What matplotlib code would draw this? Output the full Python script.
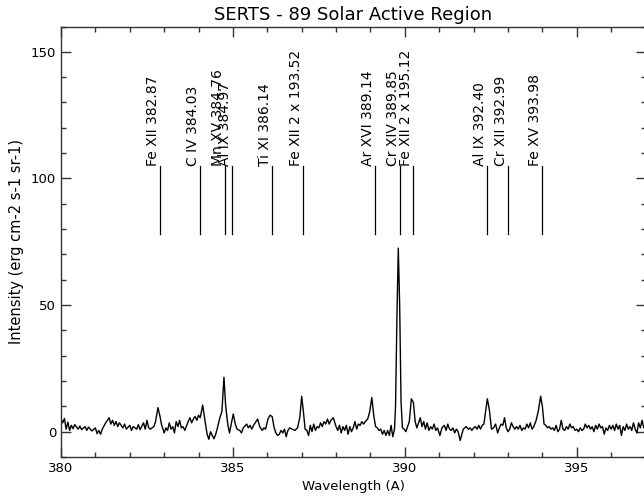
import matplotlib
matplotlib.use("Agg")
import matplotlib.pyplot as plt
from matplotlib.ticker import MultipleLocator

wavelength = [
    380.00, 380.05, 380.10, 380.15, 380.20, 380.25, 380.30, 380.35, 380.40, 380.50,
    380.55, 380.60, 380.70, 380.75, 380.80, 380.90, 381.00, 381.05, 381.10, 381.15,
    381.20, 381.30, 381.40, 381.45, 381.50, 381.55, 381.60, 381.65, 381.70, 381.80,
    381.85, 381.90, 382.00, 382.05, 382.10, 382.20, 382.25, 382.30, 382.40, 382.45,
    382.50, 382.55, 382.60, 382.70, 382.75, 382.82, 382.88, 382.92, 383.00, 383.05,
    383.10, 383.15, 383.20, 383.25, 383.30, 383.35, 383.40, 383.45, 383.50, 383.55,
    383.60, 383.70, 383.75, 383.80, 383.85, 383.90, 383.95, 384.00, 384.05, 384.12,
    384.18, 384.25, 384.30, 384.35, 384.40, 384.45, 384.50, 384.55, 384.62, 384.68,
    384.74, 384.79, 384.85, 384.90, 384.95, 385.01, 385.07, 385.12, 385.20, 385.25,
    385.30, 385.40, 385.45, 385.50, 385.55, 385.60, 385.65, 385.72, 385.78, 385.85,
    385.90, 385.95, 386.02, 386.08, 386.14, 386.20, 386.25, 386.30, 386.35, 386.40,
    386.45, 386.50, 386.55, 386.60, 386.65, 386.72, 386.80, 386.88, 386.95, 387.00,
    387.05, 387.10, 387.15, 387.20, 387.25, 387.30, 387.35, 387.40, 387.45, 387.50,
    387.55, 387.60, 387.65, 387.70, 387.75, 387.80, 387.85, 387.92, 388.00, 388.05,
    388.10, 388.15, 388.20, 388.25, 388.30, 388.35, 388.40, 388.45, 388.50, 388.55,
    388.60, 388.65, 388.70, 388.75, 388.80, 388.85, 388.92, 388.98, 389.04, 389.10,
    389.15, 389.20, 389.25, 389.30, 389.35, 389.40, 389.45, 389.50, 389.55, 389.60,
    389.65, 389.70, 389.73, 389.77, 389.81, 389.85, 389.89, 389.93, 389.98, 390.03,
    390.08, 390.13, 390.19, 390.25, 390.30, 390.35, 390.40, 390.45, 390.50, 390.55,
    390.60, 390.65, 390.70, 390.75, 390.80, 390.85, 390.90, 390.95, 391.02, 391.08,
    391.15, 391.20, 391.25, 391.30, 391.35, 391.40, 391.45, 391.50, 391.55, 391.61,
    391.66, 391.70, 391.78, 391.85, 391.90, 391.95, 392.00, 392.05, 392.10, 392.15,
    392.20, 392.25, 392.30, 392.35, 392.40, 392.46, 392.52, 392.58, 392.64, 392.70,
    392.75, 392.80, 392.85, 392.90, 392.95, 393.00, 393.05, 393.10, 393.15, 393.20,
    393.25, 393.30, 393.35, 393.40, 393.45, 393.50, 393.55, 393.60, 393.65, 393.70,
    393.75, 393.82, 393.88, 393.95, 394.00, 394.05, 394.10, 394.15, 394.20, 394.25,
    394.30, 394.35, 394.40, 394.45, 394.50, 394.55, 394.60, 394.65, 394.70, 394.75,
    394.80, 394.85, 394.90, 394.95, 395.00, 395.05, 395.10, 395.15, 395.20, 395.25,
    395.30, 395.35, 395.40, 395.45, 395.50, 395.55, 395.60, 395.65, 395.70, 395.75,
    395.80, 395.85, 395.90, 395.95, 396.00, 396.05, 396.10, 396.15, 396.20, 396.25,
    396.30, 396.35, 396.40, 396.45, 396.50, 396.55, 396.60, 396.65, 396.70, 396.75,
    396.80, 396.85, 396.90, 396.95, 397.00,
]

intensity = [
    5.0, 3.5, 5.2, 1.0, 3.8, 0.5, 2.5, 1.2, 2.8, 1.0,
    2.2, 0.8, 2.0, 0.5, 1.8, 0.3, 1.5, -0.8, 0.5, -1.0,
    1.0, 3.5, 5.5, 3.0, 4.5, 2.5, 4.0, 2.0, 3.5, 1.5,
    3.0, 1.0, 2.5, 0.5, 2.0, 1.0, 2.8, 0.8, 3.5, 1.0,
    4.5, 1.5, 1.0, 2.0, 4.0, 9.5, 6.0, 3.0, -0.5, 1.5,
    0.5, 3.5, 1.0, 2.0, -0.5, 4.0, 2.0, 4.5, 1.5, 2.0,
    0.5, 4.0, 5.5, 3.5, 5.0, 6.0, 4.5, 6.5, 5.5, 10.5,
    5.0, -1.0, -3.0, 0.0, -1.5, -2.8, -1.0, 1.5, 5.5, 8.0,
    21.5, 10.0, 3.0, -0.5, 3.0, 7.0, 3.0, 1.0, 0.5, -0.5,
    1.5, 3.0, 1.5, 2.5, 1.0, 2.5, 3.5, 5.0, 2.0, 0.5,
    1.5, 1.0, 5.0, 6.5, 6.0, 1.5, -0.5, -1.5, -1.0, 0.5,
    -0.5, 1.0, -2.0, 0.5, 1.5, 1.0, 0.5, 1.5, 6.0, 14.0,
    8.0, 1.0, 0.5, -1.5, 2.5, 0.0, 3.0, 0.5, 2.0, 1.5,
    3.5, 2.0, 4.0, 3.0, 5.0, 3.0, 4.5, 5.5, 2.0, 0.5,
    2.5, -0.5, 2.0, 0.5, 2.5, -1.0, 2.0, 0.0, 1.5, 4.0,
    1.0, 3.0, 2.5, 4.0, 3.0, 4.0, 5.0, 8.0, 13.5, 6.0,
    2.0, 1.5, 0.5, 1.0, -1.0, 0.5, -1.5, 0.5, -1.5, 2.5,
    -2.0, 1.0, 10.0, 45.0, 72.5, 50.0, 12.0, 1.5, 1.0, 0.0,
    2.0, 4.0, 13.0, 11.5, 4.0, 1.5, 3.5, 5.5, 2.0, 4.0,
    1.0, 3.5, 0.5, 2.0, 1.0, 3.0, 0.5, 1.5, -1.5, 1.5,
    2.5, 0.5, 3.0, 1.0, 0.5, 1.5, -0.5, 1.0, 0.0, -3.5,
    -1.0, 1.0, 2.0, 1.0, 1.5, 0.5, 1.5, 2.0, 1.0, 2.5,
    1.0, 2.5, 3.0, 8.0, 13.0, 8.5, 1.0, 1.5, 3.0, -0.5,
    1.5, 3.0, 2.5, 5.5, 1.5, 0.0, 1.0, 3.5, 2.0, 1.0,
    2.0, 1.0, 2.5, 0.5, 1.5, 1.0, 3.0, 1.5, 3.5, 1.0,
    2.0, 4.5, 8.0, 14.0, 10.0, 3.0, 2.5, 1.5, 2.0, 1.0,
    1.5, 0.5, 2.5, 0.0, 1.0, 4.5, 1.0, 0.5, 2.0, 1.0,
    3.0, 1.5, 2.0, 0.5, 1.0, 0.0, 1.5, 0.5, 1.0, 3.0,
    1.5, 2.5, 1.0, 2.0, 0.0, 2.5, 1.0, 3.0, 1.5, 2.0,
    -1.0, 1.5, 0.5, 2.5, 1.0, 2.5, 0.5, 3.0, 1.0, 2.5,
    -1.5, 2.0, 0.5, 3.0, 1.0, 2.0, 0.5, 3.5, 1.0, -0.5,
    3.5, 1.5, 4.5, 1.5, 3.0,
]

line_labels = [
    "Fe XII 382.87", "C IV 384.03", "Mn XV 384.76", "Al IX 384.97",
    "Ti XI 386.14", "Fe XII 2 x 193.52", "Ar XVI 389.14", "Cr XIV 389.85",
    "Fe XII 2 x 195.12", "Al IX 392.40", "Cr XII 392.99", "Fe XV 393.98",
]
line_positions = [
    382.87, 384.03, 384.76, 384.97, 386.14, 387.04, 389.14, 389.85,
    390.24, 392.40, 392.99, 393.98,
]
marker_bottom = 78
marker_top = 105

plt.rcParams['font.family'] = ['DejaVu Sans']

fig = plt.figure(figsize=(6.44, 5.0), dpi=100)
ax = fig.add_axes([61 / 644, 43 / 500, 584.5 / 644, 430.5 / 500])

ax.plot(wavelength, intensity, color='black', linewidth=1.0)

for lab, pos in zip(line_labels, line_positions):
    ax.plot([pos, pos], [marker_bottom, marker_top], color='black', linewidth=0.9)
    ax.text(pos, marker_top, lab, rotation=90, ha='right', va='bottom',
            fontsize=10, color='black')

ax.set_xlim(380, 397)
ax.set_ylim(-10, 160)
ax.xaxis.set_major_locator(MultipleLocator(5))
ax.xaxis.set_minor_locator(MultipleLocator(1))
ax.yaxis.set_major_locator(MultipleLocator(50))
ax.yaxis.set_minor_locator(MultipleLocator(10))
ax.tick_params(which='both', direction='in', top=True, right=True,
               labelsize=9.5, color='#333333', width=1.0)
ax.tick_params(which='major', length=7)
ax.tick_params(which='minor', length=3.3)
for s in ax.spines.values():
    s.set_linewidth(1.0)
    s.set_color('#333333')

ax.set_title("SERTS - 89 Solar Active Region", fontsize=13, pad=4.5)
ax.set_xlabel("Wavelength (A)", fontsize=9.5, labelpad=4)
ax.set_ylabel("Intensity (erg cm-2 s-1 sr-1)", fontsize=10.5, labelpad=5)

fig.savefig("out.png", dpi=100)
